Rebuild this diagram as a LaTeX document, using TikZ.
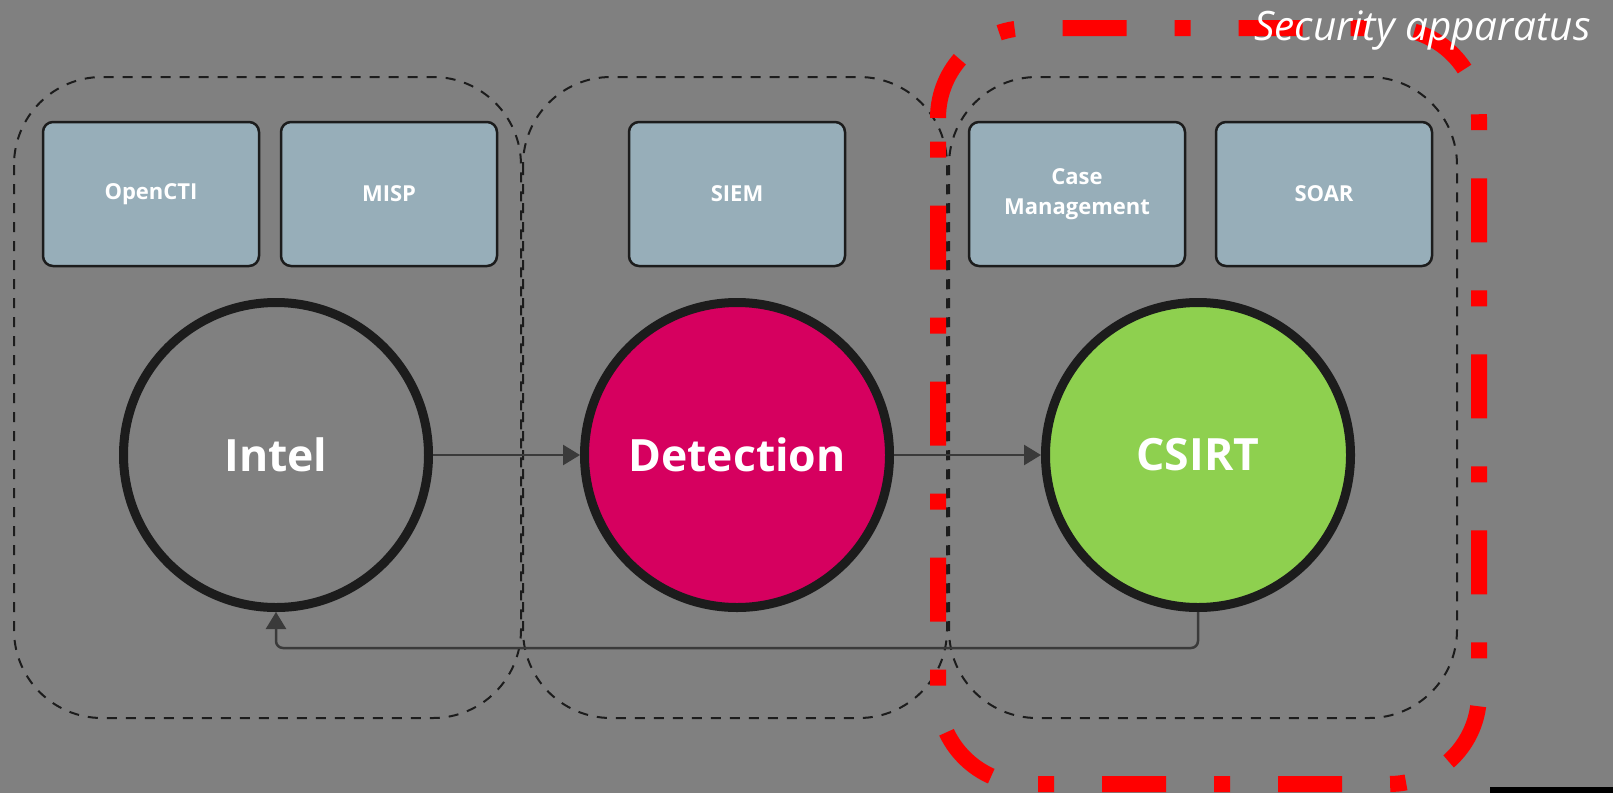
\documentclass[tikz,border=0pt]{standalone}
\usepackage{fontspec}
\setmainfont{Open Sans}
\usetikzlibrary{arrows.meta}

\definecolor{canvas}{HTML}{808080}
\definecolor{toolfill}{HTML}{97AEB9}
\definecolor{ink}{HTML}{1C1C1C}
\definecolor{flowink}{HTML}{3A3A3A}
\definecolor{detectfill}{HTML}{D6005F}
\definecolor{csirtfill}{HTML}{8ED04F}
\definecolor{alertred}{HTML}{FF0000}

\tikzset{
  group/.style={draw=ink, line width=2pt, dash pattern=on 10pt off 9pt, rounded corners=88pt},
  tool/.style={rectangle, rounded corners=10pt, draw=ink, line width=2.5pt, fill=toolfill,
    minimum width=216pt, minimum height=144pt, inner sep=0pt, text=white, align=center,
    font=\bfseries\fontsize{22}{30}\selectfont},
  stage/.style={circle, draw=ink, line width=9pt, minimum size=305pt, inner sep=0pt,
    text=white, font=\bfseries\fontsize{44.5}{50}\selectfont},
  flow/.style={draw=flowink, line width=2.5pt, -{Triangle[length=17pt,width=20pt]}},
  frame/.style={draw=alertred, line width=16pt, dash pattern=on 64pt off 48pt on 16pt off 48pt},
  title/.style={text=white, inner sep=0pt, font=\itshape\fontsize{40.5}{48}\selectfont},
}

\begin{document}
\begin{tikzpicture}[x=1pt, y=-1pt]
  % canvas
  \fill[canvas] (0,0) rectangle (1613,793);
  \useasboundingbox (0,0) rectangle (1613,793);

  % dashed groups
  \draw[group] (14,77) rectangle (521,718);
  \draw[group] (523,77) rectangle (947,718);
  \draw[group] (949,77) rectangle (1457,718);

  % tools
  \node[tool] (opencti)  at (151,194)  {OpenCTI};
  \node[tool] (misp)     at (389,194)  {MISP};
  \node[tool] (siem)     at (737,194)  {SIEM};
  \node[tool] (casemgmt) at (1077,194) {Case\\Management};
  \node[tool] (soar)     at (1324,194) {SOAR};

  % stages
  \node[stage] (intel)     at (276,455)  {Intel};
  \node[stage, fill=detectfill] (detection) at (737,455)  {Detection};
  \node[stage, fill=csirtfill]  (csirt)     at (1198,455) {CSIRT};

  % flows
  \draw[flow] (intel) -- (detection);
  \draw[flow] (detection) -- (csirt);
  \coordinate (back) at (276,648);
  \draw[flow, rounded corners=7pt] (csirt.south) |- (back) -- (intel.south);

  % security apparatus frame
  \draw[frame] (938,118) arc[start angle=180, end angle=270, radius=90]
    -- (1389,28) arc[start angle=270, end angle=360, radius=90]
    -- (1479,694) arc[start angle=0, end angle=90, radius=90]
    -- (1028,784) arc[start angle=90, end angle=180, radius=90]
    -- cycle;

  \node[title, anchor=base west] (title) at (1254,40) {Security apparatus};

  % strip in the lower right corner
  \fill[black] (1490,787) rectangle (1613,793);
\end{tikzpicture}
\end{document}
